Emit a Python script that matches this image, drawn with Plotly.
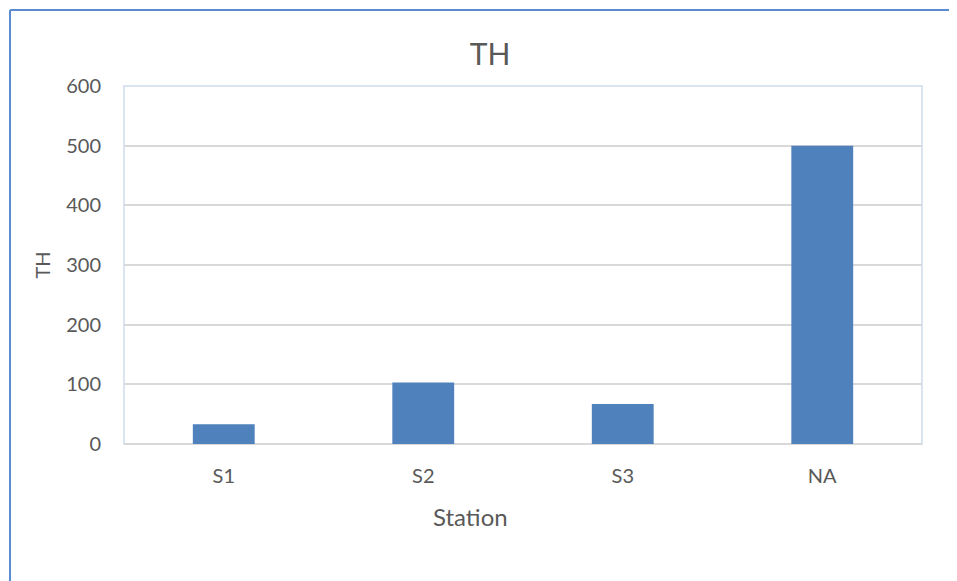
import plotly.graph_objects as go

stations = ["S1", "S2", "S3", "NA"]
th_values = [33, 103, 67, 500]
y_ticks = [0, 100, 200, 300, 400, 500, 600]

FONT = "Lato"
GREY = "#595959"

fig = go.Figure(
    go.Bar(
        x=stations,
        y=th_values,
        marker=dict(color="#4f81bd", line=dict(width=0)),
    )
)

# page has an 8px body margin; figure is sized to fill the rest of the window
OFF = 8
W, H = 957 - OFF, 581 - OFF
L, R, T, B = 124 - OFF, 35, 86 - OFF, 137
pw = W - L - R
ph = H - T - B

def px_x(p):
    return (p - OFF - L) / pw

def px_y(p):
    return (H - B - (p - OFF)) / ph

shapes = [
    # plot area frame
    dict(type="rect", xref="paper", yref="paper", x0=0, x1=1, y0=0, y1=1,
         line=dict(color="#dbe4f1", width=2), layer="below"),
    # outer chart border (left + top)
    dict(type="line", xref="paper", yref="paper",
         x0=px_x(10), x1=px_x(10), y0=px_y(10), y1=px_y(620),
         line=dict(color="#5b8bd0", width=2)),
    dict(type="line", xref="paper", yref="paper",
         x0=px_x(10), x1=px_x(1000), y0=px_y(10), y1=px_y(10),
         line=dict(color="#5b8bd0", width=2)),
]

annotations = [
    dict(text="Station", xref="paper", yref="paper", x=px_x(470), y=px_y(516),
         xanchor="center", yanchor="middle", showarrow=False,
         font=dict(family=FONT, size=24, color=GREY)),
]

fig.update_layout(
    width=W,
    height=H,
    margin=dict(l=L, r=R, t=T, b=B),
    paper_bgcolor="white",
    plot_bgcolor="white",
    bargap=0.69,
    showlegend=False,
    font=dict(family=FONT, color=GREY),
    title=dict(text="TH", x=(490 - OFF) / W, xanchor="center", y=1 - (54 - OFF) / H,
               yanchor="middle", font=dict(family=FONT, size=30, color=GREY)),
    xaxis=dict(
        type="category",
        showgrid=False,
        showline=False,
        ticks="outside",
        ticklen=14,
        tickcolor="rgba(0,0,0,0)",
        tickfont=dict(size=20, color=GREY),
    ),
    yaxis=dict(
        range=[0, 600],
        tickvals=y_ticks,
        showgrid=True,
        gridcolor="#d9d9d9",
        gridwidth=1.5,
        zeroline=True,
        zerolinecolor="#d9d9d9",
        zerolinewidth=2,
        showline=False,
        ticks="outside",
        ticklen=18,
        tickcolor="rgba(0,0,0,0)",
        tickfont=dict(size=20, color=GREY),
        title=dict(text="TH", font=dict(size=20, color=GREY), standoff=10),
    ),
    shapes=shapes,
    annotations=annotations,
)

fig.write_html("out.html")
